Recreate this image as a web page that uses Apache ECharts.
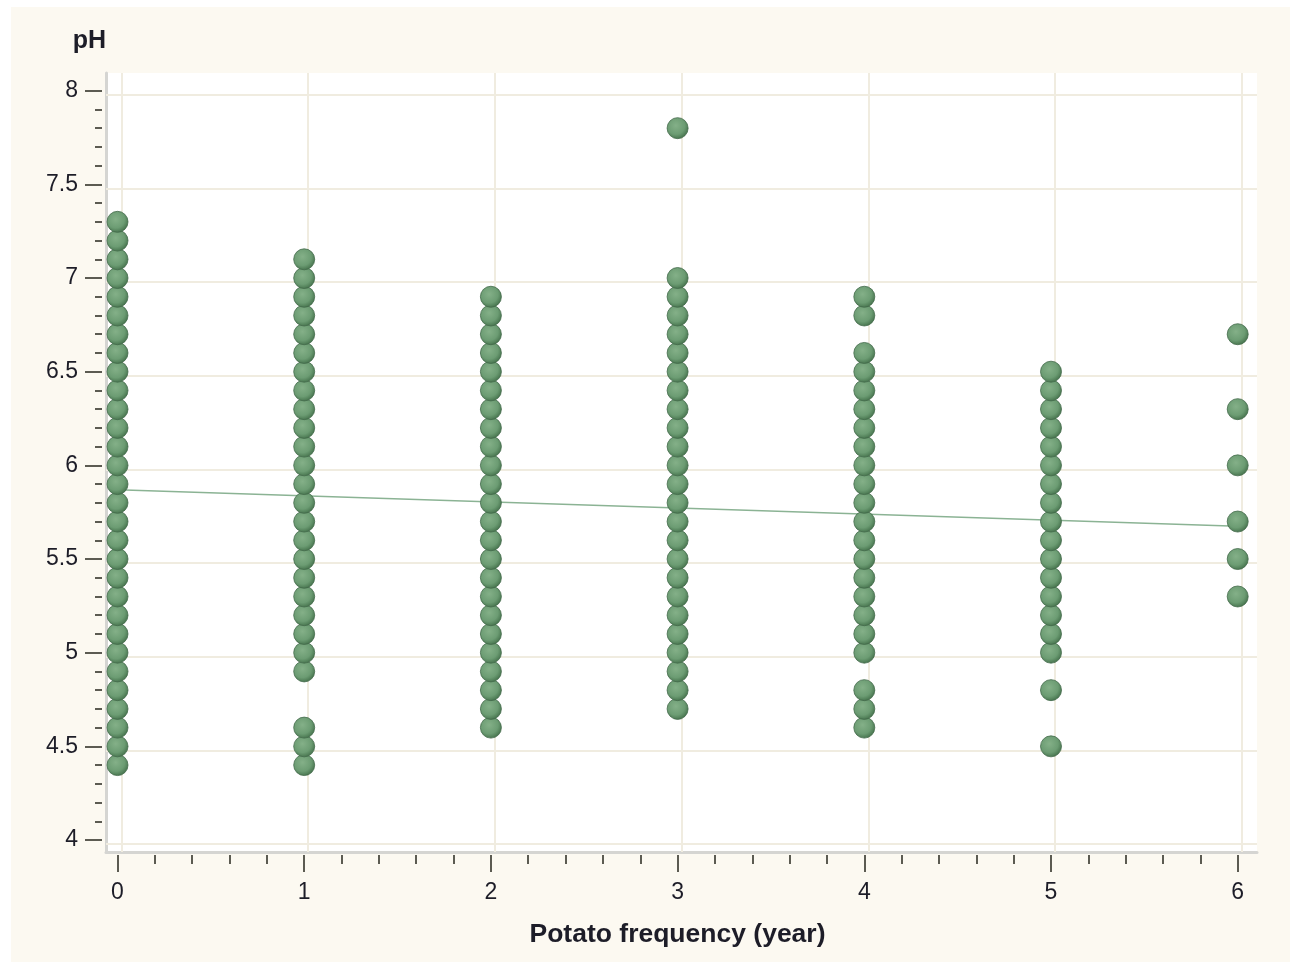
<!DOCTYPE html>
<html>
<head>
<meta charset="utf-8">
<title>pH vs potato frequency</title>
<script src="https://cdn.jsdelivr.net/npm/echarts@6/dist/echarts.min.js"></script>
<style>
  html, body { margin: 0; padding: 0; background: #ffffff; }
  #panel { position: absolute; left: 11px; top: 7px; right: 0; bottom: 0; background: #fcf9f1; }
  #chart { position: absolute; left: 0; top: 0; width: 1290px; height: 962px; }
</style>
</head>
<body>
<div id="panel"></div>
<div id="chart"></div>
<script>
// Potato frequency (years) and the pH readings observed at each frequency
const frequencies = [0, 1, 2, 3, 4, 5, 6];
const phFreq0 = [4.4, 4.5, 4.6, 4.7, 4.8, 4.9, 5.0, 5.1, 5.2, 5.3, 5.4, 5.5, 5.6, 5.7, 5.8, 5.9, 6.0, 6.1, 6.2, 6.3, 6.4, 6.5, 6.6, 6.7, 6.8, 6.9, 7.0, 7.1, 7.2, 7.3];
const phFreq1 = [4.4, 4.5, 4.6, 4.9, 5.0, 5.1, 5.2, 5.3, 5.4, 5.5, 5.6, 5.7, 5.8, 5.9, 6.0, 6.1, 6.2, 6.3, 6.4, 6.5, 6.6, 6.7, 6.8, 6.9, 7.0, 7.1];
const phFreq2 = [4.6, 4.7, 4.8, 4.9, 5.0, 5.1, 5.2, 5.3, 5.4, 5.5, 5.6, 5.7, 5.8, 5.9, 6.0, 6.1, 6.2, 6.3, 6.4, 6.5, 6.6, 6.7, 6.8, 6.9];
const phFreq3 = [4.7, 4.8, 4.9, 5.0, 5.1, 5.2, 5.3, 5.4, 5.5, 5.6, 5.7, 5.8, 5.9, 6.0, 6.1, 6.2, 6.3, 6.4, 6.5, 6.6, 6.7, 6.8, 6.9, 7.0, 7.8];
const phFreq4 = [4.6, 4.7, 4.8, 5.0, 5.1, 5.2, 5.3, 5.4, 5.5, 5.6, 5.7, 5.8, 5.9, 6.0, 6.1, 6.2, 6.3, 6.4, 6.5, 6.6, 6.8, 6.9];
const phFreq5 = [4.5, 4.8, 5.0, 5.1, 5.2, 5.3, 5.4, 5.5, 5.6, 5.7, 5.8, 5.9, 6.0, 6.1, 6.2, 6.3, 6.4, 6.5];
const phFreq6 = [5.3, 5.5, 5.7, 6.0, 6.3, 6.7];
const phByFrequency = [phFreq0, phFreq1, phFreq2, phFreq3, phFreq4, phFreq5, phFreq6];

// Linear fit of pH on frequency, evaluated at both ends of the range
const fitX = [0, 6];
const fitY = [5.87, 5.675];

// Tick positions and labels
const xMajorTicks = [0, 1, 2, 3, 4, 5, 6];
const xMinorTicks = [0, 0.2, 0.4, 0.6, 0.8, 1, 1.2, 1.4, 1.6, 1.8, 2, 2.2, 2.4, 2.6, 2.8, 3, 3.2, 3.4, 3.6, 3.8, 4, 4.2, 4.4, 4.6, 4.8, 5, 5.2, 5.4, 5.6, 5.8, 6];
const yMajorTicks = [4, 4.5, 5, 5.5, 6, 6.5, 7, 7.5, 8];
const yMinorTicks = [4, 4.1, 4.2, 4.3, 4.4, 4.5, 4.6, 4.7, 4.8, 4.9, 5, 5.1, 5.2, 5.3, 5.4, 5.5, 5.6, 5.7, 5.8, 5.9, 6, 6.1, 6.2, 6.3, 6.4, 6.5, 6.6, 6.7, 6.8, 6.9, 7, 7.1, 7.2, 7.3, 7.4, 7.5, 7.6, 7.7, 7.8, 7.9, 8];

// ---- layout ----
const FONT = '"Liberation Sans", Arial, sans-serif';
const PLOT = { left: 106, top: 73, width: 1151, height: 779 };
const X_MIN = -0.0616, X_MAX = 6.1033;
const Y_MIN = 3.936, Y_MAX = 8.0945;
const pxPerX = PLOT.width / (X_MAX - X_MIN);
const pxPerY = PLOT.height / (Y_MAX - Y_MIN);
// grid lines sit a few pixels right of / above the tick marks
const GRID_SHIFT = 4;

const TICK_COLOR = '#5c5b52';
const LABEL_COLOR = '#1d1d28';
const GRIDLINE_COLOR = '#f0ece0';

const points = [];
frequencies.forEach((f, i) => {
  phByFrequency[i].forEach(v => points.push([f, v]));
});

const hidden = { show: false };

function valueAxis(extra) {
  return Object.assign({
    type: 'value',
    axisLine: { show: false, onZero: false },
    axisTick: { show: false },
    axisLabel: { show: false },
    splitLine: { show: false },
    minorTick: hidden,
    minorSplitLine: hidden
  }, extra);
}

const chart = echarts.init(document.getElementById('chart'), null, { renderer: 'canvas' });

chart.setOption({
  backgroundColor: 'transparent',
  animation: false,
  grid: [
    Object.assign({ show: true, backgroundColor: '#ffffff', borderWidth: 0 }, PLOT),
    Object.assign({ show: false }, PLOT)
  ],
  xAxis: [
    valueAxis({
      gridIndex: 0, position: 'bottom', offset: 3, min: X_MIN, max: X_MAX,
      axisTick: { show: true, customValues: xMajorTicks, length: 17, lineStyle: { color: TICK_COLOR, width: 2 } },
      axisLabel: { show: true, customValues: xMajorTicks, margin: 26, fontSize: 23, color: LABEL_COLOR, fontFamily: FONT },
      name: 'Potato frequency (year)', nameLocation: 'middle', nameGap: 66,
      nameTextStyle: { fontSize: 26.5, fontWeight: 'bold', color: LABEL_COLOR, fontFamily: FONT, padding: [0, 8, 0, 0] }
    }),
    valueAxis({
      gridIndex: 0, position: 'bottom', offset: 3, min: X_MIN, max: X_MAX,
      axisTick: { show: true, customValues: xMinorTicks, length: 9, lineStyle: { color: TICK_COLOR, width: 2 } }
    }),
    valueAxis({
      gridIndex: 0, position: 'bottom', offset: 0, min: X_MIN, max: X_MAX,
      axisLine: { show: true, onZero: false, lineStyle: { color: '#d5d5d2', width: 3 } }
    }),
    valueAxis({
      gridIndex: 1, position: 'bottom', min: X_MIN - GRID_SHIFT / pxPerX, max: X_MAX - GRID_SHIFT / pxPerX
    })
  ],
  yAxis: [
    valueAxis({
      gridIndex: 0, position: 'left', offset: 4, min: Y_MIN, max: Y_MAX,
      axisTick: { show: true, customValues: yMajorTicks, length: 17, lineStyle: { color: TICK_COLOR, width: 2 } },
      axisLabel: { show: true, customValues: yMajorTicks, margin: 24, fontSize: 23, color: LABEL_COLOR, fontFamily: FONT }
    }),
    valueAxis({
      gridIndex: 0, position: 'left', offset: 4, min: Y_MIN, max: Y_MAX,
      axisTick: { show: true, customValues: yMinorTicks, length: 7, lineStyle: { color: TICK_COLOR, width: 2 } }
    }),
    valueAxis({
      gridIndex: 0, position: 'left', offset: 0, min: Y_MIN, max: Y_MAX,
      axisLine: { show: true, onZero: false, lineStyle: { color: '#d5d5d2', width: 3 } },
      name: 'pH', nameLocation: 'end', nameGap: 32,
      nameTextStyle: { fontSize: 25, fontWeight: 'bold', color: LABEL_COLOR, fontFamily: FONT, align: 'right', verticalAlign: 'middle' }
    }),
    valueAxis({
      gridIndex: 1, position: 'left', min: Y_MIN + GRID_SHIFT / pxPerY, max: Y_MAX + GRID_SHIFT / pxPerY
    })
  ],
  series: [
    {
      // reference grid lines at the labelled values
      type: 'scatter',
      xAxisIndex: 3, yAxisIndex: 3,
      data: [],
      z: 1,
      silent: true,
      markLine: {
        z: 1,
        silent: true,
        symbol: ['none', 'none'],
        label: { show: false },
        lineStyle: { color: GRIDLINE_COLOR, width: 2, type: 'solid' },
        emphasis: { disabled: true },
        data: yMajorTicks.map(v => ({ yAxis: v })).concat(xMajorTicks.map(v => ({ xAxis: v })))
      }
    },
    {
      type: 'line',
      xAxisIndex: 0, yAxisIndex: 0,
      data: fitX.map((x, i) => [x, fitY[i]]),
      symbol: 'none',
      z: 2,
      silent: true,
      lineStyle: { color: '#8bb394', width: 1.6 }
    },
    {
      type: 'scatter',
      xAxisIndex: 0, yAxisIndex: 0,
      data: points,
      symbol: 'circle',
      symbolSize: 21,
      z: 3,
      itemStyle: {
        color: {
          type: 'radial', x: 0.42, y: 0.38, r: 0.62,
          colorStops: [
            { offset: 0, color: '#84b088' },
            { offset: 0.65, color: '#6c9c73' },
            { offset: 1, color: '#47744e' }
          ]
        },
        borderColor: '#42694a',
        borderWidth: 0.8,
        opacity: 1
      }
    }
  ]
});
</script>
</body>
</html>
